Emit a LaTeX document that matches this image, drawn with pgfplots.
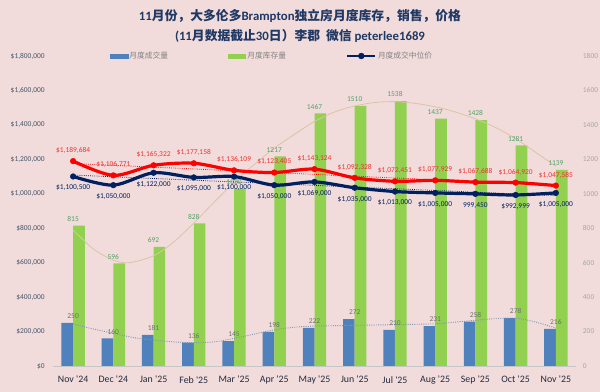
\documentclass[border=0pt]{standalone}
\usepackage{pgfplots}
\pgfplotsset{compat=1.18}
\usepackage{fontspec}
\setmainfont{Carlito}
\newfontfamily\cjk{Noto Sans CJK SC}
\definecolor{bg}{HTML}{F2DCDB}
\definecolor{bluebar}{HTML}{4F81BD}
\definecolor{greenbar}{HTML}{92D050}
\definecolor{navy}{HTML}{002060}
\definecolor{titlec}{HTML}{1F3864}
\definecolor{lefttick}{HTML}{44546A}
\definecolor{righttick}{HTML}{A6A6A6}
\definecolor{cattick}{HTML}{222B40}
\definecolor{greenlab}{HTML}{4EA366}
\definecolor{bluelab}{HTML}{6F6F6F}
\definecolor{invtrend}{HTML}{D9C4A8}
\definecolor{saletrend}{HTML}{7F95B3}
\definecolor{redlab}{HTML}{F03030}
\definecolor{legtext}{HTML}{808080}

\begin{document}
\begin{tikzpicture}
\fill[bg] (0,0) rectangle (450pt,294pt);
\node[font=\fontsize{9.6}{11}\selectfont\bfseries, text=titlec] at (225pt,282pt)
  {11{\cjk\bfseries 月份，大多伦多}Brampton{\cjk\bfseries 独立房月度库存，销售，价格}};
\node[font=\fontsize{9.6}{11}\selectfont\bfseries, text=titlec] at (225pt,267pt)
  {(11{\cjk\bfseries 月数据截止}30{\cjk\bfseries 日）李郡\ \ 微信} peterlee1689};

% ---------- bars (right axis) ----------
\begin{axis}[
  at={(39.75pt,19.5pt)}, anchor=south west, scale only axis,
  width=392.25pt, height=232.5pt,
  xmin=-0.5, xmax=12.5, ymin=0, ymax=1800,
  axis x line*=bottom, axis y line*=right,
  x axis line style={draw=gray!45, -},
  y axis line style={draw=none},
  xtick={0,...,12},
  xticklabels={Nov \textquotesingle 24,Dec \textquotesingle 24,Jan \textquotesingle 25,Feb \textquotesingle 25,Mar \textquotesingle 25,Apr \textquotesingle 25,May \textquotesingle 25,Jun \textquotesingle 25,Jul \textquotesingle 25,Aug \textquotesingle 25,Sep \textquotesingle 25,Oct \textquotesingle 25,Nov \textquotesingle 25},
  ytick={0,200,...,1800},
  major tick length=0,
  /pgf/number format/.cd, 1000 sep={}, assume math mode=true, /pgfplots/.cd,
  xticklabel style={font=\fontsize{7.4}{8}\selectfont, text=cattick, inner sep=0pt, anchor=north, yshift=-7.5pt},
  yticklabel style={font=\fontsize{5.6}{6}\selectfont, text=righttick, inner sep=0pt, anchor=west, xshift=5pt},
  clip=false,
]
\addplot[ybar, bar width=0.29, bar shift=-0.145, fill=bluebar, draw=none,
  nodes near coords,
  every node near coord/.append style={font=\fontsize{5.6}{6}\selectfont, text=bluelab, inner sep=0pt, yshift=3pt}]
  coordinates {(0,250)(1,160)(2,181)(3,136)(4,145)(5,198)(6,222)(7,272)(8,210)(9,231)(10,258)(11,278)(12,216)};
\addplot[ybar, bar width=0.29, bar shift=0.145, fill=greenbar, draw=none,
  nodes near coords,
  every node near coord/.append style={font=\fontsize{5.6}{6}\selectfont, text=greenlab, inner sep=0pt, yshift=3pt}]
  coordinates {(0,815)(1,596)(2,692)(3,828)(4,1030)(5,1217)(6,1467)(7,1510)(8,1538)(9,1437)(10,1428)(11,1281)(12,1139)};
% inventory trend
\addplot[invtrend, line width=0.6pt, smooth, no marks] coordinates {
(0,790)(0.5,680)(1,615)(1.4,600)(2,640)(2.5,720)(3,830)(3.5,950)(4,1065)(4.5,1170)(5,1265)(5.5,1345)(6,1420)(6.5,1475)(7,1510)(7.5,1530)(8,1535)(8.5,1525)(9,1505)(9.5,1475)(10,1435)(10.5,1385)(11,1320)(11.5,1240)(12,1160)};
% sales trend
\addplot[saletrend, line width=0.7pt, densely dotted, smooth, no marks] coordinates {
(0,244)(0.5,215)(1,190)(1.5,165)(2,150)(2.5,140)(3,135)(3.5,140)(4,160)(4.5,185)(5,210)(5.5,225)(6,232)(7,236)(8,240)(9,245)(9.5,255)(10,265)(10.5,275)(11,278)(11.5,255)(12,220)};
\end{axis}

% ---------- prices (left axis) ----------
\begin{axis}[
  at={(39.75pt,19.5pt)}, anchor=south west, scale only axis,
  width=392.25pt, height=232.5pt,
  xmin=-0.5, xmax=12.5, ymin=0, ymax=1800000,
  axis x line=none, axis y line*=left,
  y axis line style={draw=none},
  ytick={0,200000,400000,600000,800000,1000000,1200000,1400000,1600000,1800000},
  yticklabels={{\$0},{\$200,000},{\$400,000},{\$600,000},{\$800,000},{\$1,000,000},{\$1,200,000},{\$1,400,000},{\$1,600,000},{\$1,800,000}},
  scaled y ticks=false,
  major tick length=0,
  yticklabel style={font=\fontsize{5.6}{6}\selectfont, text=lefttick, inner sep=0pt, anchor=east, xshift=-6pt},
  clip=false,
  legend columns=3,
  legend cell align=left,
  legend style={draw=none, fill=none, at={(0.109,1)}, anchor=west, inner sep=0pt,
    font=\cjk\fontsize{5.8}{6}\selectfont, text=legtext,
    nodes={inner sep=1pt},
    /tikz/every even column/.append style={column sep=44pt}},
]
\addlegendimage{legend image code/.code={\fill[bluebar] (0pt,-1.4pt) rectangle (13pt,1.4pt);}}
\addlegendentry{月度成交量}
\addlegendimage{legend image code/.code={\fill[greenbar] (0pt,-1.4pt) rectangle (13pt,1.4pt);}}
\addlegendentry{月度库存量}
\addlegendimage{legend image code/.code={\draw[navy, line width=2pt] (0pt,0pt) -- (21pt,0pt); \fill[navy] (10.5pt,0pt) circle (2.2pt);}}
\addlegendentry{月度成交中位价}

% trends
\addplot[red, densely dotted, line width=0.6pt, forget plot] coordinates {(0,1175600)(12,1049700)};
\addplot[navy, densely dotted, line width=0.6pt, forget plot] coordinates {(0,1108600)(12,989400)};

% average price (red)
\addplot[red, line width=2.4pt, smooth, mark=*, mark size=2.1pt, mark options={solid, line width=0.4pt}, forget plot,
  point meta=explicit symbolic, nodes near coords,
  every node near coord/.append style={font=\fontsize{5.6}{6}\selectfont, text=redlab, inner sep=0pt, yshift=5.5pt}]
  table[meta=lab] {
x y lab
0 1189684 \$1,189,684
1 1106771 \$1,106,771
2 1165322 \$1,165,322
3 1177158 \$1,177,158
4 1136109 \$1,136,109
5 1123405 \$1,123,405
6 1143124 \$1,143,124
7 1092328 \$1,092,328
8 1072451 \$1,072,451
9 1077929 \$1,077,929
10 1067688 \$1,067,688
11 1064920 \$1,064,920
12 1047585 \$1,047,585
};

% median price (navy)
\addplot[navy, line width=2.4pt, smooth, mark=*, mark size=2.1pt, mark options={solid, line width=0.4pt}, forget plot,
  point meta=explicit symbolic, nodes near coords,
  every node near coord/.append style={font=\fontsize{5.6}{6}\selectfont, text=navy, inner sep=0pt, yshift=-11pt}]
  table[meta=lab] {
x y lab
0 1100500 \$1,100,500
1 1050000 \$1,050,000
2 1122000 \$1,122,000
3 1095000 \$1,095,000
4 1100000 \$1,100,000
5 1050000 \$1,050,000
6 1069000 \$1,069,000
7 1035000 \$1,035,000
8 1013000 \$1,013,000
9 1005000 \$1,005,000
10 999450 999,450
11 992999 \$992,999
12 1005000 \$1,005,000
};
\end{axis}
\pgfresetboundingbox
\path (0,0) rectangle (450pt,294pt);
\end{tikzpicture}
\end{document}
